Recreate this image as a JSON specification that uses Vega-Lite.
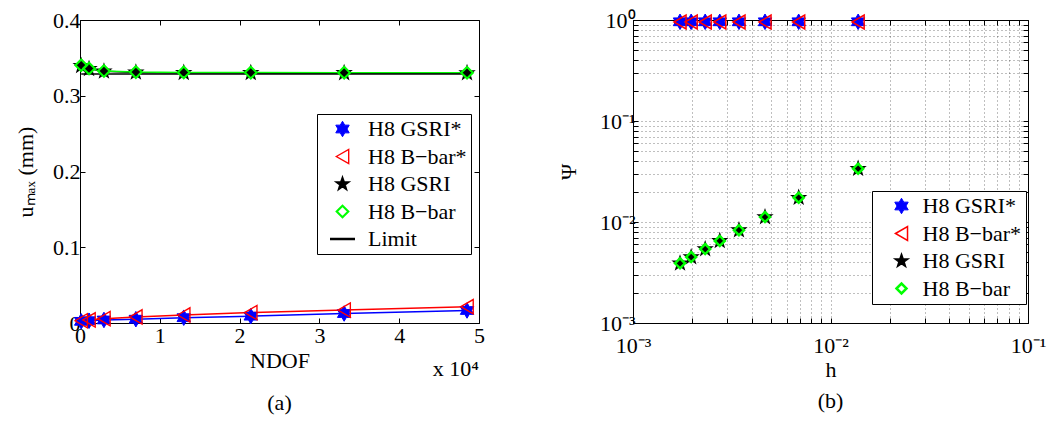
{
  "$schema": "https://vega.github.io/schema/vega-lite/v6.json",
  "padding": {"left": 14, "top": 8, "right": 5, "bottom": 5},
  "background": "white",
  "config": {
    "font": "Liberation Serif",
    "view": {"stroke": "black", "strokeWidth": 1},
    "axis": {
      "labelFont": "Liberation Serif", "labelFontSize": 22, "labelColor": "black",
      "titleFont": "Liberation Serif", "titleFontSize": 22, "titleFontWeight": "normal", "titleColor": "black",
      "domainColor": "black", "tickColor": "black", "tickSize": -5, "labelFlush": false, "labelBound": false, "labelOverlap": false
    },
    "legend": {
      "labelFont": "Liberation Serif", "labelFontSize": 22, "labelColor": "black",
      "strokeColor": "black", "fillColor": "white", "padding": 4, "rowPadding": 5.5, "orient": "none", "direction": "vertical"
    }
  },
  "datasets": {
    "left": [
      {"s": "H8 GSRI*", "ndof": 150, "u": 0.0022},
      {"s": "H8 GSRI*", "ndof": 1130, "u": 0.003},
      {"s": "H8 GSRI*", "ndof": 3000, "u": 0.004},
      {"s": "H8 GSRI*", "ndof": 7000, "u": 0.005},
      {"s": "H8 GSRI*", "ndof": 13000, "u": 0.007},
      {"s": "H8 GSRI*", "ndof": 21400, "u": 0.009},
      {"s": "H8 GSRI*", "ndof": 33100, "u": 0.0125},
      {"s": "H8 GSRI*", "ndof": 48500, "u": 0.0165},
      {"s": "H8 B−bar*", "ndof": 150, "u": 0.003},
      {"s": "H8 B−bar*", "ndof": 1130, "u": 0.004},
      {"s": "H8 B−bar*", "ndof": 3000, "u": 0.0057},
      {"s": "H8 B−bar*", "ndof": 7000, "u": 0.008},
      {"s": "H8 B−bar*", "ndof": 13000, "u": 0.0106},
      {"s": "H8 B−bar*", "ndof": 21400, "u": 0.0137},
      {"s": "H8 B−bar*", "ndof": 33100, "u": 0.017},
      {"s": "H8 B−bar*", "ndof": 48500, "u": 0.0215},
      {"s": "H8 GSRI", "ndof": 150, "u": 0.3395},
      {"s": "H8 GSRI", "ndof": 1130, "u": 0.3355},
      {"s": "H8 GSRI", "ndof": 3000, "u": 0.3322},
      {"s": "H8 GSRI", "ndof": 7000, "u": 0.3308},
      {"s": "H8 GSRI", "ndof": 13000, "u": 0.3304},
      {"s": "H8 GSRI", "ndof": 21400, "u": 0.3302},
      {"s": "H8 GSRI", "ndof": 33100, "u": 0.3301},
      {"s": "H8 GSRI", "ndof": 48500, "u": 0.33},
      {"s": "H8 B−bar", "ndof": 150, "u": 0.3402},
      {"s": "H8 B−bar", "ndof": 1130, "u": 0.336},
      {"s": "H8 B−bar", "ndof": 3000, "u": 0.3326},
      {"s": "H8 B−bar", "ndof": 7000, "u": 0.3312},
      {"s": "H8 B−bar", "ndof": 13000, "u": 0.3308},
      {"s": "H8 B−bar", "ndof": 21400, "u": 0.3306},
      {"s": "H8 B−bar", "ndof": 33100, "u": 0.3305},
      {"s": "H8 B−bar", "ndof": 48500, "u": 0.3304},
      {"s": "Limit", "ndof": 150, "u": 0.3287},
      {"s": "Limit", "ndof": 48500, "u": 0.3287}
    ],
    "right": [
      {"s": "H8 GSRI*", "h": 0.00173, "psi": 0.96},
      {"s": "H8 GSRI*", "h": 0.00197, "psi": 0.96},
      {"s": "H8 GSRI*", "h": 0.00232, "psi": 0.96},
      {"s": "H8 GSRI*", "h": 0.00275, "psi": 0.96},
      {"s": "H8 GSRI*", "h": 0.00344, "psi": 0.96},
      {"s": "H8 GSRI*", "h": 0.00466, "psi": 0.96},
      {"s": "H8 GSRI*", "h": 0.0069, "psi": 0.96},
      {"s": "H8 GSRI*", "h": 0.0138, "psi": 0.96},
      {"s": "H8 B−bar*", "h": 0.00173, "psi": 0.955},
      {"s": "H8 B−bar*", "h": 0.00197, "psi": 0.955},
      {"s": "H8 B−bar*", "h": 0.00232, "psi": 0.955},
      {"s": "H8 B−bar*", "h": 0.00275, "psi": 0.955},
      {"s": "H8 B−bar*", "h": 0.00344, "psi": 0.955},
      {"s": "H8 B−bar*", "h": 0.00466, "psi": 0.955},
      {"s": "H8 B−bar*", "h": 0.0069, "psi": 0.955},
      {"s": "H8 B−bar*", "h": 0.0138, "psi": 0.955},
      {"s": "H8 GSRI", "h": 0.00173, "psi": 0.0039},
      {"s": "H8 GSRI", "h": 0.00197, "psi": 0.0045},
      {"s": "H8 GSRI", "h": 0.00232, "psi": 0.0054},
      {"s": "H8 GSRI", "h": 0.00275, "psi": 0.0065},
      {"s": "H8 GSRI", "h": 0.00344, "psi": 0.0083},
      {"s": "H8 GSRI", "h": 0.00466, "psi": 0.0112},
      {"s": "H8 GSRI", "h": 0.0069, "psi": 0.0174},
      {"s": "H8 GSRI", "h": 0.0138, "psi": 0.0337},
      {"s": "H8 B−bar", "h": 0.00173, "psi": 0.0039},
      {"s": "H8 B−bar", "h": 0.00197, "psi": 0.0045},
      {"s": "H8 B−bar", "h": 0.00232, "psi": 0.0054},
      {"s": "H8 B−bar", "h": 0.00275, "psi": 0.0065},
      {"s": "H8 B−bar", "h": 0.00344, "psi": 0.0083},
      {"s": "H8 B−bar", "h": 0.00466, "psi": 0.0112},
      {"s": "H8 B−bar", "h": 0.0069, "psi": 0.0174},
      {"s": "H8 B−bar", "h": 0.0138, "psi": 0.0337}
    ]
  },
  "resolve": {"scale": {"shape": "independent", "fill": "independent", "stroke": "independent", "strokeWidth": "independent", "size": "independent"}},
  "spacing": 71,
  "hconcat": [
    {
      "width": 399,
      "height": 303,
      "title": {"text": "(a)", "orient": "bottom", "offset": 13, "fontSize": 22, "font": "Liberation Serif", "fontWeight": "normal", "color": "black"},
      "data": {"name": "left"},
      "layer": [
        {
          "transform": [{"filter": "datum.s == 'H8 GSRI*'"}],
          "mark": {"type": "line", "strokeWidth": 1.5, "color": "#0000ff"},
          "encoding": {
            "x": {"field": "ndof", "type": "quantitative", "scale": {"domain": [0, 50000], "nice": false},
              "axis": {"orient": "bottom", "values": [0, 10000, 20000, 30000, 40000, 50000], "labelExpr": "format(datum.value/10000, 'd')", "title": "NDOF", "grid": false, "labelPadding": 7, "titlePadding": 4}},
            "y": {"field": "u", "type": "quantitative", "scale": {"domain": [0, 0.4], "nice": false},
              "axis": {"orient": "left", "values": [0, 0.1, 0.2, 0.3, 0.4], "labelExpr": "datum.value == 0 ? '0' : format(datum.value, '.1f')", "title": "uₘₐₓ (mm)", "grid": false, "labelPadding": 5, "titlePadding": 15}}
          }
        },
        {
          "transform": [{"filter": "datum.s == 'H8 B−bar*'"}],
          "mark": {"type": "line", "strokeWidth": 1.5, "color": "#ff0000"},
          "encoding": {
            "x": {"field": "ndof", "type": "quantitative", "scale": {"domain": [0, 50000], "nice": false}, "axis": null},
            "y": {"field": "u", "type": "quantitative", "scale": {"domain": [0, 0.4], "nice": false}, "axis": null}
          }
        },
        {
          "transform": [{"filter": "datum.s == 'H8 GSRI'"}],
          "mark": {"type": "line", "strokeWidth": 1.5, "color": "#000000"},
          "encoding": {
            "x": {"field": "ndof", "type": "quantitative", "scale": {"domain": [0, 50000], "nice": false}, "axis": null},
            "y": {"field": "u", "type": "quantitative", "scale": {"domain": [0, 0.4], "nice": false}, "axis": null}
          }
        },
        {
          "transform": [{"filter": "datum.s == 'H8 B−bar'"}],
          "mark": {"type": "line", "strokeWidth": 1.5, "color": "#00ff00"},
          "encoding": {
            "x": {"field": "ndof", "type": "quantitative", "scale": {"domain": [0, 50000], "nice": false}, "axis": null},
            "y": {"field": "u", "type": "quantitative", "scale": {"domain": [0, 0.4], "nice": false}, "axis": null}
          }
        },
        {
          "transform": [{"filter": "datum.s == 'Limit'"}],
          "mark": {"type": "line", "strokeWidth": 1.5, "color": "#000000"},
          "encoding": {
            "x": {"field": "ndof", "type": "quantitative", "scale": {"domain": [0, 50000], "nice": false}, "axis": null},
            "y": {"field": "u", "type": "quantitative", "scale": {"domain": [0, 0.4], "nice": false}, "axis": null}
          }
        },
        {
          "transform": [{"filter": "datum.s != 'Limit'"}],
          "mark": {"type": "point", "filled": true, "opacity": 1},
          "encoding": {
            "x": {"field": "ndof", "type": "quantitative", "scale": {"domain": [0, 50000], "nice": false},
              "axis": {"orient": "top", "values": [0, 10000, 20000, 30000, 40000, 50000], "labels": false, "title": null, "grid": false, "domain": false}},
            "y": {"field": "u", "type": "quantitative", "scale": {"domain": [0, 0.4], "nice": false},
              "axis": {"orient": "right", "values": [0, 0.1, 0.2, 0.3, 0.4], "labels": false, "title": null, "grid": false, "domain": false}},
            "shape": {"field": "s", "type": "nominal",
              "scale": {"domain": ["H8 GSRI*", "H8 B−bar*", "H8 GSRI", "H8 B−bar", "Limit"],
                "range": ["M0,-1L0.289,-0.5L0.866,-0.5L0.577,0L0.866,0.5L0.289,0.5L0,1L-0.289,0.5L-0.866,0.5L-0.577,0L-0.866,-0.5L-0.289,-0.5Z", "triangle-left", "M0,-1L0.235,-0.324L0.951,-0.309L0.38,0.124L0.588,0.809L0,0.4L-0.588,0.809L-0.38,0.124L-0.951,-0.309L-0.235,-0.324Z", "diamond", "M-2.5,0L2.5,0"]},
              "legend": {"title": null, "legendX": 237, "legendY": 94, "symbolOffset": 10.5, "labelOffset": 14.5}},
            "fill": {"field": "s", "type": "nominal",
              "scale": {"domain": ["H8 GSRI*", "H8 B−bar*", "H8 GSRI", "H8 B−bar", "Limit"], "range": ["#0000ff", "transparent", "#000000", "transparent", "transparent"]},
              "legend": {"title": null, "legendX": 237, "legendY": 94, "symbolOffset": 10.5, "labelOffset": 14.5}},
            "stroke": {"field": "s", "type": "nominal",
              "scale": {"domain": ["H8 GSRI*", "H8 B−bar*", "H8 GSRI", "H8 B−bar", "Limit"], "range": ["#0000ff", "#ff0000", "#000000", "#00ff00", "#000000"]},
              "legend": {"title": null, "legendX": 237, "legendY": 94, "symbolOffset": 10.5, "labelOffset": 14.5}},
            "strokeWidth": {"field": "s", "type": "nominal",
              "scale": {"domain": ["H8 GSRI*", "H8 B−bar*", "H8 GSRI", "H8 B−bar", "Limit"], "range": [1, 2.5, 1, 2.5, 1.5]},
              "legend": {"title": null, "legendX": 237, "legendY": 94, "symbolOffset": 10.5, "labelOffset": 14.5}},
            "size": {"field": "s", "type": "nominal",
              "scale": {"domain": ["H8 GSRI*", "H8 B−bar*", "H8 GSRI", "H8 B−bar", "Limit"], "range": [240, 100, 230, 90, 240]},
              "legend": {"title": null, "legendX": 237, "legendY": 94, "symbolOffset": 10.5, "labelOffset": 14.5}}
          }
        },
        {
          "data": {"values": [{"ndof": 50000, "u": -0.061, "t": "x 10⁴"}]},
          "mark": {"type": "text", "align": "right", "baseline": "middle", "fontSize": 22, "font": "Liberation Serif", "color": "black"},
          "encoding": {
            "x": {"field": "ndof", "type": "quantitative", "scale": {"domain": [0, 50000], "nice": false}, "axis": null},
            "y": {"field": "u", "type": "quantitative", "scale": {"domain": [0, 0.4], "nice": false}, "axis": null},
            "text": {"field": "t"}
          }
        }
      ]
    },
    {
      "width": 395,
      "height": 303,
      "title": {"text": "(b)", "orient": "bottom", "offset": 11, "fontSize": 22, "font": "Liberation Serif", "fontWeight": "normal", "color": "black"},
      "data": {"name": "right"},
      "layer": [
        {
          "mark": {"type": "point", "filled": true, "opacity": 1},
          "encoding": {
            "x": {"field": "h", "type": "quantitative", "scale": {"type": "log", "domain": [0.001, 0.1], "nice": false},
              "axis": {"orient": "bottom", "values": [0.001, 0.002, 0.003, 0.004, 0.005, 0.006, 0.007, 0.008, 0.009, 0.01, 0.02, 0.03, 0.04, 0.05, 0.06, 0.07, 0.08, 0.09, 0.1],
                "labelExpr": "datum.value == 0.001 ? '10⁻³' : datum.value == 0.01 ? '10⁻²' : datum.value == 0.1 ? '10⁻¹' : ''",
                "title": "h", "grid": true, "gridDash": [1, 3], "gridColor": "#000000", "gridOpacity": 0.5, "labelPadding": 17, "titlePadding": 3}},
            "y": {"field": "psi", "type": "quantitative", "scale": {"type": "log", "domain": [0.001, 1], "nice": false},
              "axis": {"orient": "left", "values": [0.001, 0.002, 0.003, 0.004, 0.005, 0.006, 0.007, 0.008, 0.009, 0.01, 0.02, 0.03, 0.04, 0.05, 0.06, 0.07, 0.08, 0.09, 0.1, 0.2, 0.3, 0.4, 0.5, 0.6, 0.7, 0.8, 0.9, 1],
                "labelExpr": "datum.value == 0.001 ? '10⁻³' : datum.value == 0.01 ? '10⁻²' : datum.value == 0.1 ? '10⁻¹' : datum.value == 1 ? '10⁰' : ''",
                "title": "Ψ", "grid": true, "gridDash": [1, 3], "gridColor": "#000000", "gridOpacity": 0.5, "labelPadding": 3, "titlePadding": 19}},
            "shape": {"field": "s", "type": "nominal",
              "scale": {"domain": ["H8 GSRI*", "H8 B−bar*", "H8 GSRI", "H8 B−bar"],
                "range": ["M0,-1L0.289,-0.5L0.866,-0.5L0.577,0L0.866,0.5L0.289,0.5L0,1L-0.289,0.5L-0.866,0.5L-0.577,0L-0.866,-0.5L-0.289,-0.5Z", "triangle-left", "M0,-1L0.235,-0.324L0.951,-0.309L0.38,0.124L0.588,0.809L0,0.4L-0.588,0.809L-0.38,0.124L-0.951,-0.309L-0.235,-0.324Z", "diamond"]},
              "legend": {"title": null, "legendX": 239, "legendY": 171, "symbolOffset": 14.5, "labelOffset": 10}},
            "fill": {"field": "s", "type": "nominal",
              "scale": {"domain": ["H8 GSRI*", "H8 B−bar*", "H8 GSRI", "H8 B−bar"], "range": ["#0000ff", "transparent", "#000000", "transparent"]},
              "legend": {"title": null, "legendX": 239, "legendY": 171, "symbolOffset": 14.5, "labelOffset": 10}},
            "stroke": {"field": "s", "type": "nominal",
              "scale": {"domain": ["H8 GSRI*", "H8 B−bar*", "H8 GSRI", "H8 B−bar"], "range": ["#0000ff", "#ff0000", "#000000", "#00ff00"]},
              "legend": {"title": null, "legendX": 239, "legendY": 171, "symbolOffset": 14.5, "labelOffset": 10}},
            "strokeWidth": {"field": "s", "type": "nominal",
              "scale": {"domain": ["H8 GSRI*", "H8 B−bar*", "H8 GSRI", "H8 B−bar"], "range": [1, 2.5, 1, 2.5]},
              "legend": {"title": null, "legendX": 239, "legendY": 171, "symbolOffset": 14.5, "labelOffset": 10}},
            "size": {"field": "s", "type": "nominal",
              "scale": {"domain": ["H8 GSRI*", "H8 B−bar*", "H8 GSRI", "H8 B−bar"], "range": [240, 100, 230, 90]},
              "legend": {"title": null, "legendX": 239, "legendY": 171, "symbolOffset": 14.5, "labelOffset": 10}}
          }
        },
        {
          "mark": {"type": "point", "opacity": 0},
          "encoding": {
            "x": {"field": "h", "type": "quantitative", "scale": {"type": "log", "domain": [0.001, 0.1], "nice": false},
              "axis": {"orient": "top", "values": [0.001, 0.002, 0.003, 0.004, 0.005, 0.006, 0.007, 0.008, 0.009, 0.01, 0.02, 0.03, 0.04, 0.05, 0.06, 0.07, 0.08, 0.09, 0.1], "labels": false, "title": null, "grid": false, "domain": false}},
            "y": {"field": "psi", "type": "quantitative", "scale": {"type": "log", "domain": [0.001, 1], "nice": false},
              "axis": {"orient": "right", "values": [0.001, 0.002, 0.003, 0.004, 0.005, 0.006, 0.007, 0.008, 0.009, 0.01, 0.02, 0.03, 0.04, 0.05, 0.06, 0.07, 0.08, 0.09, 0.1, 0.2, 0.3, 0.4, 0.5, 0.6, 0.7, 0.8, 0.9, 1], "labels": false, "title": null, "grid": false, "domain": false}}
          }
        }
      ]
    }
  ]
}
